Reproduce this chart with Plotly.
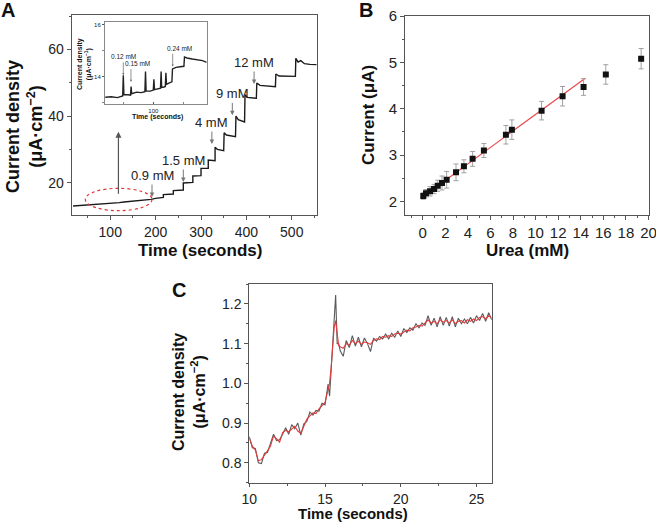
import plotly.graph_objects as go

W, H = 656, 522
FONT = "Liberation Sans, Arial, sans-serif"

# ---- panel A : amperometric response to successive urea additions
time_a = [18, 30, 45, 60, 75, 90, 100, 110, 120, 130, 140, 150, 160, 170, 180, 190, 200, 210, 217, 217,
          228, 239, 239, 250, 261, 261, 272, 282, 282, 292, 300, 300, 308, 316, 316, 324, 331, 331, 336, 350,
          351, 356, 376, 377, 382, 396, 397, 402, 422, 423, 430, 464, 465, 472, 508, 509, 514, 520, 528, 540, 555]
current_a = [13.0, 13.1, 13.3, 13.4, 13.5, 13.7, 13.8, 13.9, 14.0, 14.2, 14.3, 14.5, 14.6, 14.7, 14.9, 15.0, 15.3, 15.5, 15.6, 16.4,
             16.5, 16.6, 17.6, 17.7, 17.8, 19.9, 20.0, 20.1, 22.0, 22.1, 22.1, 24.3, 24.3, 24.3, 26.8, 26.7, 26.6, 30.6, 30.0, 29.6,
             35.0, 34.3, 33.8, 40.0, 38.9, 38.2, 46.4, 45.6, 45.3, 49.9, 49.2, 48.8, 52.6, 52.0, 51.9, 57.3, 56.2, 56.6, 55.7, 55.5, 55.4]
step_labels = ["0.9 mM", "1.5 mM", "4 mM", "9 mM", "12 mM"]
step_times = [192, 261, 324, 369, 417]
step_heads = [15.7, 20.2, 31.6, 40.2, 49.6]

# inset of panel A (low concentration region)
time_in = [20, 30, 40, 49, 50, 51, 58, 62, 63, 64, 72, 80, 86, 87, 88, 95, 100, 101, 102, 108,
           112, 113, 114, 118, 120, 121, 122, 126, 131, 132, 134, 138, 145, 151, 152, 156, 165, 175, 182, 189]
current_in = [13.20, 13.22, 13.19, 13.25, 14.05, 13.30, 13.30, 13.28, 13.62, 13.34, 13.40, 13.38, 13.42, 14.20, 13.45, 13.44, 13.48, 13.90, 13.50, 13.52,
              13.55, 14.20, 13.58, 13.60, 13.62, 14.15, 13.70, 13.75, 13.80, 14.30, 14.32, 14.36, 14.38, 14.40, 14.76, 14.72, 14.68, 14.66, 14.62, 14.55]
inset_labels = ["0.12 mM", "0.15 mM", "0.24 mM"]
inset_times = [50, 62.8, 132.3]
inset_heads = [14.06, 13.8, 14.39]

# ---- panel B : calibration
urea_b = [0.05, 0.29, 0.65, 1.0, 1.33, 1.71, 2.12, 2.95, 3.65, 4.42, 5.42, 7.37, 7.9, 10.53, 12.39, 14.25, 16.22, 19.35]
current_b = [2.12, 2.18, 2.22, 2.27, 2.34, 2.40, 2.47, 2.63, 2.76, 2.92, 3.10, 3.44, 3.55, 3.96, 4.27, 4.47, 4.74, 5.08]
err_b = [0.07, 0.08, 0.10, 0.10, 0.12, 0.15, 0.18, 0.18, 0.14, 0.16, 0.15, 0.20, 0.21, 0.20, 0.21, 0.18, 0.21, 0.22]
fit_x = [0.05, 14.4]
fit_y = [2.11, 4.66]

# ---- panel C : response time
t_c = [10.0, 10.2, 10.4, 10.6, 10.8, 11.0, 11.2, 11.4, 11.6, 11.8, 12.0, 12.2, 12.4, 12.6, 12.8, 13.0, 13.2, 13.4, 13.6, 13.8,
       14.0, 14.2, 14.4, 14.6, 14.8, 15.0, 15.2, 15.3, 15.4, 15.5, 15.6, 15.7, 15.8, 15.9, 16.0, 16.2, 16.4, 16.6, 16.8, 17.0,
       17.2, 17.4, 17.6, 17.8, 18.0, 18.2, 18.4, 18.6, 18.8, 19.0, 19.2, 19.4, 19.6, 19.8, 20.0, 20.2, 20.4, 20.6, 20.8, 21.0,
       21.2, 21.4, 21.6, 21.8, 22.0, 22.2, 22.4, 22.6, 22.8, 23.0, 23.2, 23.4, 23.6, 23.8, 24.0, 24.2, 24.4, 24.6, 24.8, 25.0,
       25.2, 25.4, 25.6, 25.8, 26.0]
raw_c = [0.866, 0.838, 0.836, 0.800, 0.798, 0.824, 0.826, 0.848, 0.872, 0.856, 0.858, 0.872, 0.888, 0.872, 0.896, 0.886, 0.900, 0.870, 0.898, 0.904,
         0.928, 0.920, 0.932, 0.930, 0.950, 0.946, 0.998, 0.968, 1.040, 1.110, 1.150, 1.222, 1.100, 1.100, 1.082, 1.068, 1.108, 1.090, 1.120, 1.094,
         1.116, 1.092, 1.114, 1.100, 1.080, 1.114, 1.106, 1.118, 1.112, 1.124, 1.112, 1.126, 1.116, 1.132, 1.118, 1.138, 1.128, 1.140, 1.134, 1.150,
         1.140, 1.152, 1.146, 1.170, 1.146, 1.164, 1.142, 1.168, 1.146, 1.166, 1.144, 1.168, 1.142, 1.164, 1.150, 1.162, 1.150, 1.166, 1.152, 1.170,
         1.158, 1.176, 1.156, 1.178, 1.160]
smooth_c = [0.862, 0.842, 0.832, 0.805, 0.808, 0.818, 0.830, 0.842, 0.868, 0.860, 0.852, 0.876, 0.882, 0.878, 0.886, 0.892, 0.880, 0.874, 0.892, 0.910,
            0.918, 0.926, 0.924, 0.936, 0.944, 0.952, 0.985, 1.000, 1.040, 1.100, 1.140, 1.158, 1.120, 1.095, 1.092, 1.088, 1.100, 1.096, 1.108, 1.100,
            1.106, 1.098, 1.104, 1.102, 1.098, 1.108, 1.112, 1.110, 1.118, 1.116, 1.120, 1.118, 1.124, 1.126, 1.124, 1.130, 1.134, 1.132, 1.140, 1.142,
            1.146, 1.144, 1.152, 1.160, 1.152, 1.156, 1.150, 1.160, 1.154, 1.158, 1.152, 1.160, 1.150, 1.156, 1.158, 1.152, 1.160, 1.156, 1.162, 1.158,
            1.166, 1.168, 1.162, 1.170, 1.164]


def px(x):
    return x / W


def py(y):
    return 1 - y / H


fig = go.Figure()
fig.add_trace(go.Scatter(x=time_a, y=current_a, mode="lines", line=dict(color="#1a1a1a", width=1.4),
                         xaxis="x", yaxis="y", showlegend=False))
fig.add_trace(go.Scatter(x=time_in, y=current_in, mode="lines", line=dict(color="#222", width=1.4),
                         xaxis="x4", yaxis="y4", showlegend=False))
fig.add_trace(go.Scatter(x=fit_x, y=fit_y, mode="lines", line=dict(color="#e8474c", width=1.2),
                         xaxis="x2", yaxis="y2", showlegend=False))
fig.add_trace(go.Scatter(x=urea_b, y=current_b, mode="markers",
                         marker=dict(symbol="square", size=6, color="#111"),
                         error_y=dict(type="data", array=err_b, color="#a0a0a0", thickness=1, width=2.5),
                         xaxis="x2", yaxis="y2", showlegend=False))
fig.add_trace(go.Scatter(x=t_c, y=raw_c, mode="lines", line=dict(color="#5a5a5a", width=1.1),
                         xaxis="x3", yaxis="y3", showlegend=False))
fig.add_trace(go.Scatter(x=t_c, y=smooth_c, mode="lines", line=dict(color="#e23b3b", width=1.1),
                         xaxis="x3", yaxis="y3", showlegend=False))

axis_style = dict(showgrid=False, zeroline=False, showline=True, mirror=True, linecolor="#555", linewidth=1,
                  automargin=False, ticks="outside", ticklen=4, tickcolor="#555", ticklabeloverflow="allow",
                  tickfont=dict(family=FONT, size=14, color="#222"))

fig.update_layout(
    template="none",
    width=W, height=H, margin=dict(l=0, r=0, t=0, b=0, pad=0),
    paper_bgcolor="white", plot_bgcolor="white", font=dict(family=FONT),
    xaxis=dict(axis_style, domain=[px(71.7), px(316.7)], anchor="y", range=[15, 555], dtick=100, tick0=0,
               minor=dict(dtick=50, ticklen=2, ticks="outside", tickcolor="#555")),
    yaxis=dict(axis_style, domain=[py(215), py(15)], anchor="x", range=[10.3, 70.3], dtick=20, tick0=0,
               minor=dict(dtick=10, ticklen=2, ticks="outside", tickcolor="#555")),
    xaxis2=dict(axis_style, domain=[px(405), px(648.7)], anchor="y2", range=[-1.57, 20.02], dtick=2, tick0=0,
                tickfont=dict(family=FONT, size=15, color="#222"),
                minor=dict(dtick=1, ticklen=2, ticks="outside", tickcolor="#555")),
    yaxis2=dict(axis_style, domain=[py(215), py(16)], anchor="x2", range=[1.71, 6.0], dtick=1, tick0=0,
                tickfont=dict(family=FONT, size=15, color="#222"),
                minor=dict(dtick=0.5, ticklen=2, ticks="outside", tickcolor="#555")),
    xaxis3=dict(axis_style, domain=[px(249.3), px(491.7)], anchor="y3", range=[10, 26], dtick=5, tick0=0,
                ticklen=3, minor=dict(dtick=2.5, ticklen=2, ticks="outside", tickcolor="#555")),
    yaxis3=dict(axis_style, domain=[py(482.7), py(284)], anchor="x3", range=[0.75, 1.25], dtick=0.1, tick0=0,
                tickformat=".1f", minor=dict(dtick=0.05, ticklen=2, ticks="outside", tickcolor="#555")),
    xaxis4=dict(axis_style, domain=[px(105), px(206.7)], anchor="y4", range=[19.5, 189], dtick=100, tick0=0,
                ticks="inside", ticklen=2, linecolor="#888", tickfont=dict(family=FONT, size=6, color="#222"),
                minor=dict(dtick=50, ticklen=2, ticks="inside", tickcolor="#888")),
    yaxis4=dict(axis_style, domain=[py(104.3), py(22.3)], anchor="x4", range=[12.93, 16.1], dtick=2, tick0=0,
                ticklen=2, linecolor="#888", tickfont=dict(family=FONT, size=6, color="#222"),
                minor=dict(dtick=1, ticklen=2, ticks="outside", tickcolor="#888")),
)

ann = []


def label(x, y, text, size, angle=0, bold=True):
    ann.append(dict(x=px(x), y=py(y), xref="paper", yref="paper", showarrow=False,
                    text="<b>%s</b>" % text if bold else text, textangle=angle,
                    font=dict(family=FONT, size=size, color="#111"), xanchor="center", yanchor="middle"))


# panel letters
label(8, 10, "A", 20)
label(366, 10, "B", 20)
label(178.5, 290, "C", 20)

# axis titles
label(24, 127, "Current density<br>(μA·cm<sup>−2</sup>)", 18, angle=-90)
label(200, 250, "Time (seconds)", 17)
label(369, 115, "Current (μA)", 17, angle=-90)
label(527, 250, "Urea (mM)", 17)
label(189, 392, "Current density<br>(μA·cm<sup>−2</sup>)", 16, angle=-90)
label(353, 513, "Time (seconds)", 15)
label(84, 64, "Current density<br>(μA·cm<sup>−1</sup>)", 7, angle=-90)
label(157, 117, "Time (seconds)", 7)

# concentration arrows, panel A
for name, t, head in zip(step_labels, step_times, step_heads):
    ann.append(dict(x=t, y=head, ax=t, ay=head + 4.2, xref="x", yref="y", axref="x", ayref="y", text="",
                    showarrow=True, arrowhead=2, arrowsize=0.9, arrowwidth=1, arrowcolor="#777"))
    ann.append(dict(x=t, y=head + 6.6, xref="x", yref="y", text=name, showarrow=False,
                    font=dict(family=FONT, size=13, color="#222")))

# big arrow from the circled region to the inset
ann.append(dict(x=118, y=35.3, ax=118, ay=16.2, xref="x", yref="y", axref="x", ayref="y", text="",
                showarrow=True, arrowhead=2, arrowsize=1, arrowwidth=1.2, arrowcolor="#555"))

# inset arrows
for i, (name, t, head) in enumerate(zip(inset_labels, inset_times, inset_heads)):
    ann.append(dict(x=t, y=head, ax=t, ay=head + 0.55, xref="x4", yref="y4", axref="x4", ayref="y4", text="",
                    showarrow=True, arrowhead=2, arrowsize=0.6, arrowwidth=0.7, arrowcolor="#666"))
    ann.append(dict(x=t, y=head + 0.71, xref="x4", yref="y4", text=name, showarrow=False, xshift=0 if i == 0 else 7,
                    font=dict(family=FONT, size=6.5, color="#222")))

fig.update_layout(annotations=ann)

# dotted ellipse around the low-concentration part of the trace
fig.add_shape(type="circle", xref="x", yref="y", x0=45, x1=192, y0=11.6, y1=18.3,
              line=dict(color="#e03535", width=1.2, dash="dot"))

# drop the default page margin so the figure sits at the window's corner
fig.write_html("out.html", config={"displayModeBar": False},
               post_script="document.body.style.margin='0';")
